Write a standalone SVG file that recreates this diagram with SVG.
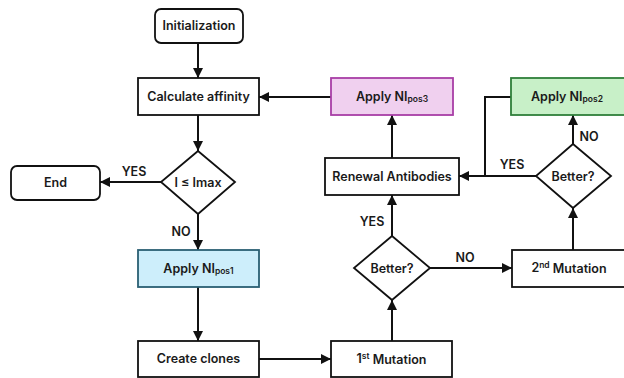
<svg xmlns="http://www.w3.org/2000/svg" width="624" height="378" viewBox="0 0 624 378">
<style>
.box{fill:#fff;stroke:#111;stroke-width:1.8}
.t{font-family:Inter,"Noto Sans",sans-serif;font-weight:600;font-size:12.5px;fill:#1a1a1a;text-anchor:middle;dominant-baseline:central}
.s{font-size:8.5px}
.c{fill:none;stroke:#111;stroke-width:2}
</style>
<defs>
<marker id="ah" viewBox="0 0 10 10" refX="10" refY="5" markerWidth="10" markerHeight="10" markerUnits="userSpaceOnUse" orient="auto">
<path d="M0,0 L10,5 L0,10 Z" fill="#111"/>
</marker>
</defs>
<rect x="0" y="0" width="624" height="378" fill="#fff"/>
<g id="connectors">
<path class="c" d="M198,43 V78" marker-end="url(#ah)"/>
<path class="c" d="M198,115 V151" marker-end="url(#ah)"/>
<path class="c" d="M161,182 H100" marker-end="url(#ah)"/>
<path class="c" d="M198,214 V250" marker-end="url(#ah)"/>
<path class="c" d="M198,287 V341" marker-end="url(#ah)"/>
<path class="c" d="M259,359 H331" marker-end="url(#ah)"/>
<path class="c" d="M392,341 V300" marker-end="url(#ah)"/>
<path class="c" d="M392,236 V195" marker-end="url(#ah)"/>
<path class="c" d="M430,268 H512" marker-end="url(#ah)"/>
<path class="c" d="M573,250 V208" marker-end="url(#ah)"/>
<path class="c" d="M573,144 V115" marker-end="url(#ah)"/>
<path class="c" d="M536,176 H459" marker-end="url(#ah)"/>
<path class="c" d="M511,97 H485 V176"/>
<path class="c" d="M392,158 V115" marker-end="url(#ah)"/>
<path class="c" d="M331,97 H259" marker-end="url(#ah)"/>
<text class="t" x="134" y="171">YES</text>
<text class="t" x="181" y="231">NO</text>
<text class="t" x="372" y="221">YES</text>
<text class="t" x="465" y="257">NO</text>
<text class="t" x="512" y="164">YES</text>
<text class="t" x="589" y="136">NO</text>
</g>
<g id="init"><rect class="box" x="155" y="9" width="88" height="34" rx="6"/><text class="t" x="199" y="25">Initialization</text></g>
<g id="calc"><rect class="box" x="138" y="78" width="121" height="37"/><text class="t" x="198.5" y="96">Calculate affinity</text></g>
<g id="cond1"><polygon class="box" points="198,151 235,182 198,214 161,182"/><text class="t" x="198" y="182">I ≤ Imax</text></g>
<g id="end"><rect class="box" x="11" y="166" width="89" height="34" rx="6"/><text class="t" x="55.5" y="182.5">End</text></g>
<g id="nipos1"><rect x="138" y="250" width="121" height="37" fill="#cdeefb" stroke="#2a5f73" stroke-width="1.8"/><text class="t" x="198.5" y="268">Apply NI<tspan class="s" dy="3">pos1</tspan></text></g>
<g id="clones"><rect class="box" x="138" y="341" width="121" height="36"/><text class="t" x="198.5" y="358.5">Create clones</text></g>
<g id="mut1"><rect class="box" x="331" y="341" width="121" height="36"/><text class="t" x="391.5" y="358.5">1<tspan class="s" dy="-3">st</tspan><tspan dy="3"> Mutation</tspan></text></g>
<g id="cond2"><polygon class="box" points="392,236 430,268 392,300 354,268"/><text class="t" x="392" y="268">Better?</text></g>
<g id="mut2"><rect class="box" x="512" y="250" width="114" height="37"/><text class="t" x="569" y="267.5">2<tspan class="s" dy="-3">nd</tspan><tspan dy="3"> Mutation</tspan></text></g>
<g id="cond3"><polygon class="box" points="573,144 611,176 573,208 536,176"/><text class="t" x="573" y="176">Better?</text></g>
<g id="nipos2"><rect x="511" y="78" width="115" height="37" fill="#c8f0c8" stroke="#2f7f3a" stroke-width="1.8"/><text class="t" x="567" y="96">Apply NI<tspan class="s" dy="3">pos2</tspan></text></g>
<g id="renewal"><rect class="box" x="325" y="158" width="134" height="37"/><text class="t" x="392" y="176">Renewal Antibodies</text></g>
<g id="nipos3"><rect x="331" y="78" width="122" height="37" fill="#f0d0ef" stroke="#a83ea6" stroke-width="1.8"/><text class="t" x="392" y="96">Apply NI<tspan class="s" dy="3">pos3</tspan></text></g>
</svg>
